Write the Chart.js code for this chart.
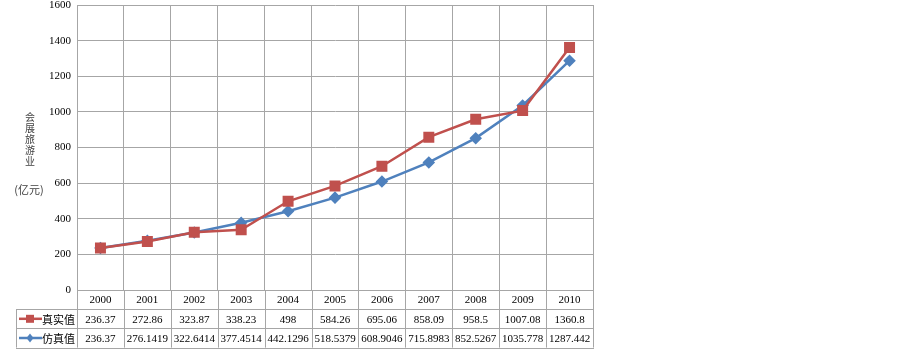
<!DOCTYPE html>
<html>
<head>
<meta charset="utf-8">
<script src="https://cdn.jsdelivr.net/npm/chart.js@4.4.0/dist/chart.umd.min.js"></script>
<style>
  html, body { margin: 0; padding: 0; background: #fff; }
  #wrap { width: 903px; height: 351px; position: relative; }
</style>
</head>
<body>
<div id="wrap"><canvas id="c"></canvas></div>
<script>
// 数据
const years = ["2000","2001","2002","2003","2004","2005","2006","2007","2008","2009","2010"];
const realVals = [236.37, 272.86, 323.87, 338.23, 498, 584.26, 695.06, 858.09, 958.5, 1007.08, 1360.8];
const simVals = [236.37, 276.1419, 322.6414, 377.4514, 442.1296, 518.5379, 608.9046, 715.8983, 852.5267, 1035.778, 1287.442];
const realText = ["236.37","272.86","323.87","338.23","498","584.26","695.06","858.09","958.5","1007.08","1360.8"];
const simText = ["236.37","276.1419","322.6414","377.4514","442.1296","518.5379","608.9046","715.8983","852.5267","1035.778","1287.442"];
const seriesNames = ["真实值", "仿真值"];
const yTitleChars = ["会","展","旅","游","业"];
const yUnit = "(亿元)";

const RED = '#C0504D', BLUE = '#4F81BD', GRID = '#a6a6a6';
const SERIF = '"Liberation Serif", "Times New Roman", serif';
const CJK = '"Noto Sans CJK SC", sans-serif';

// 数据表 + 轴标题
const tablePlugin = {
  id: 'tablePlugin',
  afterDraw(chart) {
    const ctx = chart.ctx, a = chart.chartArea, xs = chart.scales.x;
    const rowH = 19.2;
    const r0 = a.bottom, r1 = r0 + rowH, r2 = r1 + rowH, r3 = r2 + rowH;
    const step = (a.right - a.left) / years.length;
    const keyL = 16;
    ctx.save();
    ctx.strokeStyle = GRID; ctx.lineWidth = 1;
    ctx.beginPath();
    // 竖线
    for (let i = 0; i <= years.length; i++) {
      const x = Math.round(a.left + step * i) + 0.5;
      ctx.moveTo(x, r0); ctx.lineTo(x, r3);
    }
    ctx.moveTo(keyL + 0.5, r1); ctx.lineTo(keyL + 0.5, r3);
    // 横线
    [r1, r2, r3].forEach(y => {
      const yy = Math.round(y) + 0.5;
      ctx.moveTo(keyL, yy); ctx.lineTo(a.right + 1, yy);
    });
    ctx.stroke();

    ctx.fillStyle = '#000';
    ctx.font = '11px ' + SERIF;
    ctx.textAlign = 'center'; ctx.textBaseline = 'middle';
    years.forEach((y, i) => {
      const cx = xs.getPixelForValue(i);
      ctx.fillText(y, cx, (r0 + r1) / 2 + 1);
      ctx.fillText(realText[i], cx, (r1 + r2) / 2 + 1);
      ctx.fillText(simText[i], cx, (r2 + r3) / 2 + 1);
    });

    // 图例
    const keys = [[RED, 'rect'], [BLUE, 'diamond']];
    keys.forEach((k, j) => {
      const cy = (j === 0 ? (r1 + r2) / 2 : (r2 + r3) / 2);
      ctx.strokeStyle = k[0]; ctx.fillStyle = k[0]; ctx.lineWidth = 2.5;
      ctx.beginPath(); ctx.moveTo(19, cy); ctx.lineTo(42, cy); ctx.stroke();
      ctx.beginPath();
      if (k[1] === 'rect') ctx.rect(26, cy - 4, 8, 8);
      else { ctx.moveTo(30, cy - 4.5); ctx.lineTo(33.5, cy); ctx.lineTo(30, cy + 4.5); ctx.lineTo(26.5, cy); ctx.closePath(); }
      ctx.fill();
      ctx.fillStyle = '#000';
      ctx.font = '11px ' + CJK;
      ctx.textAlign = 'left';
      ctx.fillText(seriesNames[j], 42, cy + 1);
    });

    // 纵轴标题
    ctx.fillStyle = '#404040';
    ctx.font = '10px ' + CJK;
    ctx.textAlign = 'center';
    yTitleChars.forEach((ch, i) => ctx.fillText(ch, 30, 117 + i * 11));
    ctx.font = '11px ' + CJK;
    ctx.fillText(yUnit, 29, 190);
    ctx.restore();
  }
};

new Chart(document.getElementById('c'), {
  type: 'line',
  data: {
    labels: years,
    datasets: [
      { label: seriesNames[0], data: realVals, borderColor: RED, backgroundColor: RED, borderWidth: 2.5,
        pointStyle: 'rect', pointRadius: 6, pointHoverRadius: 6, tension: 0 },
      { label: seriesNames[1], data: simVals, borderColor: BLUE, backgroundColor: BLUE, borderWidth: 2.5,
        pointStyle: 'rectRot', pointRadius: 4.5, pointHoverRadius: 4.5, tension: 0 }
    ]
  },
  options: {
    responsive: true, maintainAspectRatio: false, animation: false,
    layout: { autoPadding: false, padding: { left: 0, right: 310, top: 5, bottom: 61 } },
    plugins: { legend: { display: false }, tooltip: { enabled: false } },
    scales: {
      x: {
        offset: true,
        grid: { offset: true, color: GRID, lineWidth: 1, drawTicks: false },
        border: { color: GRID },
        ticks: { display: false },
        afterFit(s) { s.height = 0; }
      },
      y: {
        min: 0, max: 1600,
        grid: { color: GRID, lineWidth: 1, drawTicks: false },
        border: { color: GRID },
        ticks: { stepSize: 200, color: '#000', padding: 6, font: { family: SERIF, size: 11 },
          callback: v => String(v) },
        afterFit(s) { s.width = 77; s.paddingTop = 0; s.paddingBottom = 0; }
      }
    }
  },
  plugins: [tablePlugin]
});
</script>
</body>
</html>
